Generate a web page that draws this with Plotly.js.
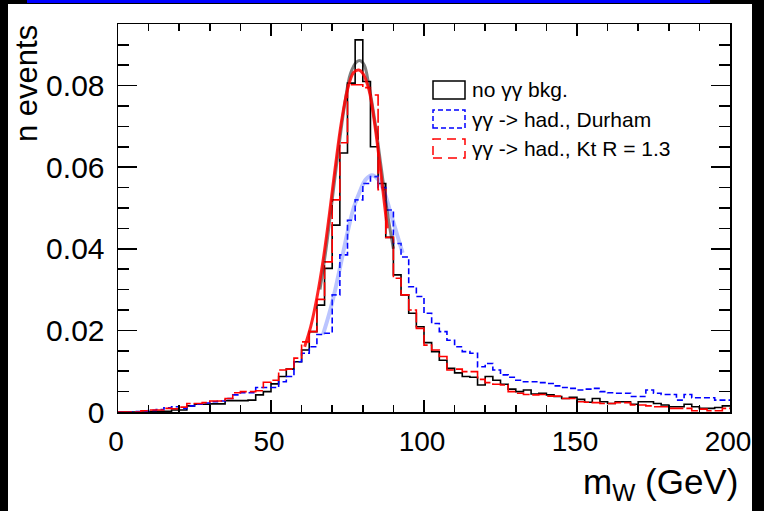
<!DOCTYPE html>
<html><head><meta charset="utf-8">
<script src="https://cdn.plot.ly/plotly-3.0.1.min.js"></script>
<style>
html,body{margin:0;padding:0;background:#000;width:764px;height:511px;overflow:hidden;}
#topline{position:absolute;left:27px;top:0;width:683px;height:3px;background:#0000ff;}
#chart{position:absolute;left:8px;top:4px;width:744px;height:507px;background:#fff;}
</style></head><body>
<div id="topline"></div><div id="chart"></div>
<script>
// Histogram binning (GeV)
const binLow = 0, binWidth = 2.5, nBins = 80;

// no gamma-gamma background (black, solid)
const noBkg = [0,0,0,0,0.0001,0.0002,0.0002,0.0005,0.0005,0.0015,
 0.0019,0.0019,0.0020,0.0020,0.0028,0.0028,0.0028,0.0029,0.0042,0.0050,
 0.0069,0.0087,0.0105,0.0123,0.0152,0.0197,0.0262,0.0352,0.0458,0.0635,
 0.0806,0.0912,0.0810,0.0650,0.0560,0.0428,0.0336,0.0287,0.0242,0.0209,
 0.0170,0.0148,0.0127,0.0107,0.0096,0.0087,0.0085,0.0066,0.0087,0.0078,
 0.0068,0.0056,0.0050,0.0054,0.0044,0.0046,0.0042,0.0038,0.0033,0.0036,
 0.0031,0.0024,0.0033,0.0025,0.0021,0.0025,0.0025,0.0019,0.0025,0.0025,
 0.0021,0.0017,0.0013,0.0013,0.0019,0.0013,0.0009,0.0009,0.0011,0.0015];

// gamma-gamma -> had., Durham (blue, dashed)
const durham = [0,0,0.0001,0.0002,0.0004,0.0006,0.0010,0.0013,0.0009,0.0015,
 0.0019,0.0022,0.0025,0.0027,0.0033,0.0042,0.0047,0.0047,0.0060,0.0060,
 0.0060,0.0074,0.0087,0.0123,0.0144,0.0160,0.0190,0.0193,0.0287,0.0385,
 0.0470,0.0520,0.0560,0.0577,0.0550,0.0495,0.0413,0.0380,0.0307,0.0283,
 0.0242,0.0217,0.0197,0.0176,0.0160,0.0148,0.0144,0.0111,0.0119,0.0103,
 0.0091,0.0085,0.0078,0.0074,0.0074,0.0072,0.0070,0.0064,0.0060,0.0058,
 0.0054,0.0056,0.0058,0.0050,0.0047,0.0046,0.0046,0.0038,0.0038,0.0054,
 0.0046,0.0043,0.0043,0.0029,0.0043,0.0035,0.0035,0.0035,0.0029,0.0029];

// gamma-gamma -> had., Kt R = 1.3 (red, long dash)
const ktR13 = [0,0,0,0.0003,0.0005,0.0005,0.0009,0.0008,0.0012,0.0021,
 0.0021,0.0023,0.0027,0.0027,0.0033,0.0047,0.0050,0.0050,0.0052,0.0073,
 0.0078,0.0103,0.0105,0.0132,0.0172,0.0197,0.0276,0.0368,0.0520,0.0660,
 0.0802,0.0802,0.0795,0.0777,0.0545,0.0428,0.0328,0.0287,0.0250,0.0205,
 0.0164,0.0152,0.0136,0.0103,0.0105,0.0099,0.0099,0.0080,0.0072,0.0068,
 0.0066,0.0050,0.0046,0.0043,0.0042,0.0043,0.0039,0.0039,0.0033,0.0033,
 0.0025,0.0024,0.0023,0.0021,0.0021,0.0023,0.0023,0.0017,0.0017,0.0015,
 0.0013,0.0013,0.0009,0.0009,0.0009,0.0003,0.0007,0.0003,0.0003,0.0009];

// Fit curves
const fitBlackX = [66,68,70,72,74,76,78,79.2,80.5,82,84,86,88,90];
const fitBlackY = [0.030,0.040,0.052,0.064,0.075,0.083,0.0858,0.0861,0.0850,0.080,0.071,0.060,0.049,0.040];
const fitBlueX = [67,69,71,73,75,77,79,81,83,85,87,89,91,93];
const fitBlueY = [0.019,0.024,0.030,0.037,0.044,0.050,0.054,0.057,0.058,0.057,0.054,0.049,0.044,0.039];
const fitRedX = [61,63,65,67,69,71,73,75,77,78.7,80,82,84,86,88];
const fitRedY = [0.016,0.021,0.028,0.037,0.048,0.060,0.071,0.079,0.0832,0.0838,0.0830,0.0790,0.070,0.058,0.045];

// Axis tick labels
const xTickVals = [0, 50, 100, 150, 200];
const xTickText = ['0', '50', '100', '150', '200'];
const yTickVals = [0, 0.02, 0.04, 0.06, 0.08];
const yTickText = ['0', '0.02', '0.04', '0.06', '0.08'];

// Legend labels
const legendLabels = ['no \u03b3\u03b3 bkg.', '\u03b3\u03b3 -> had., Durham', '\u03b3\u03b3 -> had., Kt R = 1.3'];

const edges = [];
for (let i = 0; i <= nBins; i++) edges.push(binLow + i * binWidth);
function stepY(v){ return v.concat([v[v.length-1]]); }

const traces = [
 {x: edges, y: stepY(noBkg), type:'scatter', mode:'lines', line:{shape:'hv', color:'#000000', width:1.6}, name: legendLabels[0]},
 {x: edges, y: stepY(durham), type:'scatter', mode:'lines', line:{shape:'hv', color:'#0000ff', width:1.6, dash:'6px,3px'}, name: legendLabels[1]},
 {x: edges, y: stepY(ktR13), type:'scatter', mode:'lines', line:{shape:'hv', color:'#ff0000', width:1.6, dash:'14px,3px'}, name: legendLabels[2]},
 {x: fitBlueX, y: fitBlueY, type:'scatter', mode:'lines', line:{shape:'spline', color:'rgba(60,90,255,0.35)', width:4}, hoverinfo:'skip'},
 {x: fitBlackX, y: fitBlackY, type:'scatter', mode:'lines', line:{shape:'spline', color:'rgba(0,0,0,0.5)', width:3}, hoverinfo:'skip'},
 {x: fitRedX, y: fitRedY, type:'scatter', mode:'lines', line:{shape:'spline', color:'rgba(255,0,0,0.85)', width:3}, hoverinfo:'skip'}
];

const F = '"Liberation Sans", Arial, sans-serif';
const axisCommon = {
 showline:true, linecolor:'#000', linewidth:1.5, mirror:'allticks',
 ticks:'inside', tickcolor:'#000', tickwidth:1.5, tickmode:'array',
 showgrid:false, zeroline:false, ticklabeloverflow:'allow'
};

function px2x(p){ return (p - 118) / 612; }
function px2y(p){ return (412 - p) / 388; }

const boxes = [
 {top:81, bot:99, color:'#000000', dash:'solid'},
 {top:110, bot:128, color:'#0000ff', dash:'5px,3px'},
 {top:139, bot:158, color:'#ff0000', dash:'9px,6px'}
];
const shapes = boxes.map(b => ({type:'rect', xref:'paper', yref:'paper',
 x0:px2x(433), x1:px2x(465), y0:px2y(b.bot), y1:px2y(b.top),
 line:{color:b.color, width:1.5, dash:b.dash}, fillcolor:'rgba(0,0,0,0)'}));

const annotations = boxes.map((b,i) => ({xref:'paper', yref:'paper', x:px2x(470), y:px2y((b.top+b.bot)/2),
 xanchor:'left', yanchor:'middle', showarrow:false, text:legendLabels[i], font:{family:F, size:21, color:'#000'}}));
annotations.push({xref:'paper', yref:'paper', x:px2x(26), y:px2y(84), textangle:-90, xanchor:'center', yanchor:'middle',
 showarrow:false, text:'n events', font:{family:F, size:31, color:'#000'}});
annotations.push({xref:'paper', yref:'paper', x:px2x(740), y:px2y(484), xanchor:'right', yanchor:'middle',
 showarrow:false, text:'m<sub>W</sub> (GeV)', font:{family:F, size:35, color:'#000'}});

const layout = {
 width:744, height:507,
 margin:{l:110, r:22, t:20, b:99},
 paper_bgcolor:'#ffffff', plot_bgcolor:'#ffffff',
 showlegend:false,
 font:{family:F, color:'#000'},
 xaxis: Object.assign({}, axisCommon, {range:[0,200], tickvals:xTickVals, ticktext:xTickText, ticklen:12,
   tickfont:{family:F, size:28, color:'#000'}, ticklabelshift:-2,
   minor:{tick0:0, dtick:10, ticklen:7, ticks:'inside', tickcolor:'#000', tickwidth:1.5}, ticklabelstandoff:4}),
 yaxis: Object.assign({}, axisCommon, {range:[0,0.0951], tickvals:yTickVals, ticktext:yTickText, ticklen:19,
   tickfont:{family:F, size:30, color:'#000'},
   minor:{tick0:0, dtick:0.005, ticklen:11, ticks:'inside', tickcolor:'#000', tickwidth:1.5}, ticklabelstandoff:6}),
 shapes: shapes,
 annotations: annotations
};

Plotly.newPlot('chart', traces, layout, {displayModeBar:false, staticPlot:true});
</script></body></html>
